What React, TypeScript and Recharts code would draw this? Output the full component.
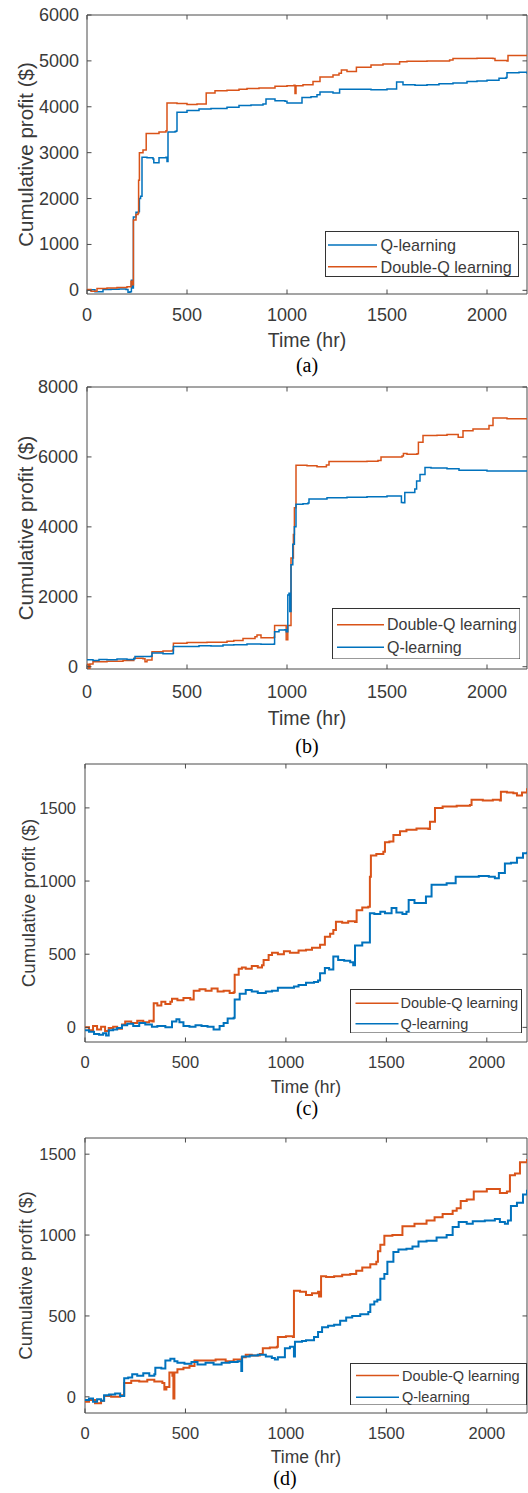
import { LineChart, Line, XAxis, YAxis, ReferenceArea, Legend } from 'recharts'

const BLUE = '#0072BD'
const ORANGE = '#D95319'
const INK = '#3a3a3a'
const FRAME = '#4a4a4a'
const FONT = "'Liberation Sans', Arial, Helvetica, sans-serif"
const PAD = 10
const X_AXIS_H = 70

const timeTicks = [0, 500, 1000, 1500, 2000]

// (a)
const aQTime = [0, 40, 80, 120, 160, 195, 205, 215, 222, 226,
  232, 245, 258, 262, 268, 275, 300, 330, 334, 360,
  395, 400, 405, 440, 446, 450, 500, 560, 620, 700,
  760, 820, 880, 895, 940, 990, 1000, 1060, 1075, 1120,
  1150, 1165, 1230, 1263, 1350, 1420, 1500, 1545, 1548, 1580,
  1640, 1700, 1760, 1830, 1900, 1950, 2000, 2060, 2095, 2100,
  2160, 2200]
const aQProfit = [10, -30, 20, 25, 30, 20, -40, -30, 220, 50,
  1600, 1700, 1720, 2000, 2050, 2900, 2890, 2860, 2780, 2890,
  2900, 2810, 3450, 3460, 3470, 3880, 3920, 3950, 3960, 3990,
  4030, 4040, 4060, 4170, 4130, 4120, 4080, 4080, 4200, 4220,
  4260, 4320, 4300, 4380, 4380, 4370, 4390, 4390, 4540, 4480,
  4470, 4480, 4500, 4520, 4550, 4560, 4580, 4620, 4640, 4740,
  4750, 4720]
const aDQTime = [0, 20, 50, 100, 150, 200, 220, 228, 232, 245,
  255, 258, 262, 280, 292, 296, 330, 360, 395, 400,
  450, 500, 550, 592, 596, 640, 700, 760, 800, 860,
  940, 1000, 1035, 1040, 1045, 1080, 1130, 1165, 1230, 1260,
  1272, 1300, 1330, 1347, 1420, 1480, 1563, 1600, 1700, 1813,
  1830, 1950, 2030, 2040, 2100, 2105, 2200]
const aDQProfit = [20, -20, 40, 50, 60, 80, 200, 120, 1530, 1650,
  1680, 2400, 3000, 3060, 3060, 3420, 3420, 3450, 3480, 4080,
  4070, 4050, 4060, 4060, 4300, 4350, 4360, 4380, 4400, 4410,
  4450, 4460, 4470, 4290, 4460, 4480, 4550, 4650, 4690, 4730,
  4800, 4770, 4770, 4860, 4910, 4930, 4980, 4990, 5000, 5020,
  5050, 5060, 5050, 5010, 5000, 5120, 5110]

// (b)
const bQTime = [0, 30, 60, 100, 150, 200, 234, 240, 300, 320,
  325, 380, 428, 432, 500, 560, 620, 680, 734, 800,
  870, 935, 938, 960, 990, 996, 1004, 1010, 1014, 1020,
  1029, 1037, 1045, 1080, 1105, 1110, 1200, 1300, 1400, 1500,
  1570, 1572, 1580, 1589, 1639, 1648, 1665, 1690, 1720, 1800,
  1860, 1900, 2000, 2100, 2200]
const bQProfit = [200, 180, 210, 200, 220, 210, 230, 290, 290, 300,
  390, 370, 380, 580, 580, 600, 590, 620, 630, 650,
  640, 650, 1000, 1050, 1060, 1000, 2050, 2100, 1580, 2920,
  3500, 4000, 4650, 4660, 4680, 4800, 4830, 4850, 4860, 4880,
  4880, 4700, 4690, 4980, 5080, 5310, 5500, 5700, 5680, 5660,
  5620, 5620, 5600, 5600, 5600]
const bDQTime = [0, 8, 15, 30, 100, 180, 234, 280, 290, 300,
  325, 380, 428, 432, 500, 600, 700, 734, 780, 840,
  850, 870, 935, 938, 990, 996, 1004, 1020, 1032, 1037,
  1045, 1100, 1150, 1197, 1210, 1300, 1400, 1455, 1470, 1575,
  1582, 1600, 1650, 1657, 1680, 1750, 1800, 1850, 1856, 1880,
  1930, 2010, 2030, 2100, 2200]
const bDQProfit = [70, -40, 80, 140, 160, 180, 240, 230, 140, 190,
  430, 450, 480, 670, 690, 700, 730, 750, 810, 860,
  910, 830, 840, 1180, 1180, 770, 1180, 3110, 3780, 4550,
  5760, 5750, 5720, 5770, 5870, 5870, 5880, 5900, 6000, 6030,
  6100, 6080, 6090, 6420, 6610, 6620, 6640, 6640, 6560, 6750,
  6800, 6900, 7110, 7090, 7090]

// (c)
const cDQTime = [0, 20, 40, 60, 80, 100, 118, 140, 160, 184,
  200, 230, 260, 290, 320, 335, 342, 360, 380, 400,
  425, 433, 460, 490, 524, 541, 570, 600, 630, 660,
  690, 720, 740, 745, 765, 781, 800, 830, 860, 881,
  889, 914, 931, 960, 990, 1020, 1063, 1100, 1130, 1170,
  1194, 1220, 1236, 1249, 1280, 1310, 1344, 1352, 1380, 1410,
  1418, 1423, 1450, 1485, 1493, 1515, 1535, 1568, 1600, 1650,
  1709, 1717, 1742, 1780, 1850, 1916, 1924, 1980, 2030, 2065,
  2070, 2100, 2132, 2150, 2175, 2200]
const cDQProfit = [0, -20, 10, -15, 5, -25, -5, 5, -10, 20,
  40, 30, 45, 35, 45, 40, 165, 150, 175, 160,
  175, 195, 185, 200, 190, 250, 260, 250, 265, 245,
  250, 235, 240, 360, 400, 410, 400, 420, 410, 425,
  460, 495, 510, 500, 520, 510, 525, 530, 545, 565,
  620, 640, 665, 722, 715, 725, 720, 800, 820, 825,
  1030, 1175, 1185, 1200, 1265, 1270, 1315, 1340, 1350, 1360,
  1355, 1405, 1500, 1510, 1515, 1520, 1555, 1550, 1555, 1550,
  1610, 1605, 1600, 1585, 1605, 1635]
const cQTime = [0, 20, 45, 70, 90, 105, 118, 140, 160, 184,
  210, 240, 270, 300, 333, 360, 400, 433, 455, 470,
  490, 520, 550, 580, 610, 640, 670, 690, 710, 740,
  745, 770, 800, 830, 860, 900, 931, 960, 1000, 1040,
  1063, 1100, 1140, 1160, 1170, 1194, 1215, 1236, 1260, 1290,
  1320, 1335, 1344, 1380, 1410, 1418, 1440, 1470, 1493, 1526,
  1550, 1580, 1600, 1611, 1640, 1675, 1697, 1725, 1760, 1800,
  1845, 1900, 1960, 2010, 2040, 2060, 2090, 2120, 2150, 2180,
  2200]
const cQProfit = [-20, -30, -45, -50, -40, -55, -20, -15, -5, 15,
  25, 10, 30, 20, 5, 10, 0, 40, 55, 35,
  10, 5, 15, 10, 5, -15, 10, 30, 60, 65,
  190, 230, 255, 245, 235, 245, 250, 270, 270, 280,
  290, 305, 310, 320, 370, 405, 395, 485, 460, 455,
  445, 425, 560, 580, 580, 780, 775, 790, 780, 815,
  785, 775, 790, 870, 850, 850, 895, 975, 975, 985,
  1030, 1030, 1035, 1030, 1020, 1055, 1120, 1125, 1160, 1190,
  1200]

// (d)
const dDQTime = [0, 20, 50, 80, 95, 130, 175, 195, 230, 270,
  310, 345, 385, 395, 405, 420, 435, 440, 445, 460,
  490, 520, 545, 600, 650, 700, 740, 780, 800, 830,
  870, 885, 920, 955, 960, 1000, 1035, 1040, 1070, 1100,
  1130, 1160, 1165, 1175, 1200, 1240, 1280, 1320, 1350, 1380,
  1420, 1450, 1458, 1470, 1490, 1530, 1565, 1580, 1640, 1700,
  1740, 1780, 1830, 1850, 1870, 1900, 1935, 2000, 2050, 2065,
  2100, 2115, 2140, 2165, 2200]
const dDQProfit = [-30, -20, -40, -25, 5, 0, 10, 85, 100, 95,
  105, 95, 85, 45, 60, 150, 130, -10, 150, 170,
  180, 190, 225, 225, 230, 220, 230, 245, 260, 255,
  265, 300, 305, 310, 370, 375, 370, 655, 650, 630,
  640, 650, 620, 745, 740, 745, 755, 760, 780, 800,
  820, 835, 900, 940, 995, 1000, 1000, 1055, 1070, 1090,
  1110, 1130, 1150, 1165, 1210, 1220, 1270, 1285, 1285, 1260,
  1270, 1370, 1380, 1450, 1470]
const dQTime = [0, 20, 40, 60, 80, 95, 120, 150, 175, 195,
  215, 235, 260, 290, 320, 345, 350, 380, 400, 425,
  445, 460, 495, 530, 560, 600, 640, 680, 720, 760,
  778, 782, 820, 860, 900, 930, 945, 960, 995, 1020,
  1040, 1045, 1080, 1100, 1140, 1160, 1180, 1210, 1240, 1270,
  1300, 1330, 1370, 1410, 1420, 1440, 1455, 1470, 1490, 1505,
  1535, 1560, 1600, 1630, 1660, 1700, 1750, 1800, 1830, 1860,
  1900, 1930, 1990, 2040, 2065, 2090, 2105, 2120, 2150, 2180,
  2200]
const dQProfit = [-20, -10, -30, -15, -25, 10, 15, 20, 5, 115,
  120, 140, 130, 145, 130, 140, 180, 175, 225, 235,
  220, 210, 205, 215, 200, 210, 200, 210, 215, 220,
  160, 250, 255, 260, 250, 240, 230, 245, 300, 310,
  250, 340, 345, 350, 370, 400, 430, 440, 445, 470,
  490, 500, 510, 525, 570, 590, 600, 730, 760, 835,
  895, 910, 915, 930, 960, 965, 985, 1000, 1050, 1080,
  1070, 1085, 1090, 1100, 1080, 1070, 1090, 1180, 1200, 1250,
  1280]

const zip = (time: number[], profit: number[]) => time.map((t, i) => ({ time: t, profit: profit[i] }))

const Q_NAME = 'Q-learning'
const DQ_NAME = 'Double-Q learning'

type Series = { name: string; color: string; data: { time: number; profit: number }[] }
type LegendBox = { left: number; top: number; width: number; height: number; rowY: number[]; lineX1: number; lineX2: number; textX: number; font: number }
type Panel = {
  caption: string; captionX: number; captionY: number
  top: number; bottom: number; left: number; right: number
  xMax: number; yMin: number; yMax: number; yTicks: number[]
  tickFont: number; xTitleFont: number; yTitleFont: number
  yTitleX: number; tickDy: number; xTitleDy: number; yTickGap: number
  lineWidth: number; series: Series[]; legend: LegendBox
}

const panels: Panel[] = [
  {
    caption: '(a)', captionX: 307, captionY: 365,
    top: 15, bottom: 294, left: 87, right: 527,
    xMax: 2200, yMin: -80, yMax: 6000, yTicks: [0, 1000, 2000, 3000, 4000, 5000, 6000],
    tickFont: 18, xTitleFont: 19.5, yTitleFont: 20.5, yTitleX: 25, tickDy: 21, xTitleDy: 46, yTickGap: 8,
    lineWidth: 1.5,
    series: [
      { name: Q_NAME, color: BLUE, data: zip(aQTime, aQProfit) },
      { name: DQ_NAME, color: ORANGE, data: zip(aDQTime, aDQProfit) },
    ],
    legend: { left: 325, top: 231, width: 194, height: 46, rowY: [245, 266.7], lineX1: 328, lineX2: 377, textX: 380.5, font: 16.2 },
  },
  {
    caption: '(b)', captionX: 307, captionY: 746,
    top: 387, bottom: 669, left: 87, right: 527,
    xMax: 2200, yMin: -65, yMax: 8000, yTicks: [0, 2000, 4000, 6000, 8000],
    tickFont: 18, xTitleFont: 19.5, yTitleFont: 20.5, yTitleX: 25, tickDy: 22.5, xTitleDy: 49, yTickGap: 9,
    lineWidth: 1.5,
    series: [
      { name: DQ_NAME, color: ORANGE, data: zip(bDQTime, bDQProfit) },
      { name: Q_NAME, color: BLUE, data: zip(bQTime, bQProfit) },
    ],
    legend: { left: 331.5, top: 607.5, width: 188.5, height: 51.5, rowY: [624.3, 646.7], lineX1: 336.5, lineX2: 383.5, textX: 386.5, font: 16 },
  },
  {
    caption: '(c)', captionX: 307, captionY: 1108,
    top: 764, bottom: 1042, left: 85, right: 527,
    xMax: 2200, yMin: -100, yMax: 1800, yTicks: [0, 500, 1000, 1500],
    tickFont: 16.5, xTitleFont: 17.5, yTitleFont: 18.7, yTitleX: 28, tickDy: 20, xTitleDy: 45, yTickGap: 9,
    lineWidth: 2,
    series: [
      { name: DQ_NAME, color: ORANGE, data: zip(cDQTime, cDQProfit) },
      { name: Q_NAME, color: BLUE, data: zip(cQTime, cQProfit) },
    ],
    legend: { left: 349.5, top: 988.5, width: 172, height: 44.5, rowY: [1002.7, 1023.3], lineX1: 355, lineX2: 398, textX: 400, font: 14.5 },
  },
  {
    caption: '(d)', captionX: 285, captionY: 1478,
    top: 1138, bottom: 1413, left: 85, right: 527,
    xMax: 2200, yMin: -100, yMax: 1600, yTicks: [0, 500, 1000, 1500],
    tickFont: 16.5, xTitleFont: 17.5, yTitleFont: 18.7, yTitleX: 25, tickDy: 19.5, xTitleDy: 43.5, yTickGap: 9,
    lineWidth: 2,
    series: [
      { name: DQ_NAME, color: ORANGE, data: zip(dDQTime, dDQProfit) },
      { name: Q_NAME, color: BLUE, data: zip(dQTime, dQProfit) },
    ],
    legend: { left: 350, top: 1362.5, width: 177, height: 42.5, rowY: [1375, 1396.7], lineX1: 356, lineX2: 399, textX: 402, font: 14.5 },
  },
]

function ProfitPanel({ p }: { p: Panel }) {
  const plotH = p.bottom - p.top
  const height = PAD + plotH + X_AXIS_H
  const offsetTop = p.top - PAD
  const plotBottom = PAD + plotH
  const lg = p.legend

  const xTick = (props: any) => {
    const { x, payload } = props
    return (
      <g>
        <line x1={x} x2={x} y1={plotBottom} y2={plotBottom - 4.5} stroke={FRAME} />
        <line x1={x} x2={x} y1={PAD} y2={PAD + 4.5} stroke={FRAME} />
        <text x={x} y={plotBottom + p.tickDy} textAnchor="middle" dominantBaseline="central"
          fontSize={p.tickFont} fontFamily={FONT} fill={INK}>{payload.value}</text>
      </g>
    )
  }

  const yTick = (props: any) => {
    const { y, payload } = props
    return (
      <g>
        <line x1={p.left} x2={p.left + 4.5} y1={y} y2={y} stroke={FRAME} />
        <line x1={p.right - 4.5} x2={p.right} y1={y} y2={y} stroke={FRAME} />
        <text x={p.left - p.yTickGap} y={y} textAnchor="end" dominantBaseline="central"
          fontSize={p.tickFont} fontFamily={FONT} fill={INK}>{payload.value}</text>
      </g>
    )
  }

  const XTitle = () => (
    <text x={(p.left + p.right) / 2} y={plotBottom + p.xTitleDy} textAnchor="middle" dominantBaseline="central"
      fontSize={p.xTitleFont} fontFamily={FONT} fill={INK}>Time (hr)</text>
  )

  const YTitle = () => {
    const cy = PAD + plotH / 2
    return (
      <text x={p.yTitleX} y={cy} transform={`rotate(-90 ${p.yTitleX} ${cy})`} textAnchor="middle"
        dominantBaseline="central" fontSize={p.yTitleFont} fontFamily={FONT} fill={INK}>Cumulative profit ($)</text>
    )
  }

  const legendContent = () => (
    <svg width={lg.width} height={lg.height} style={{ display: 'block' }}>
      <rect x={0.5} y={0.5} width={lg.width - 1} height={lg.height - 1} fill="#fff" stroke="#333" />
      {p.series.map((s, i) => (
        <g key={s.name}>
          <line x1={lg.lineX1 - lg.left} x2={lg.lineX2 - lg.left} y1={lg.rowY[i] - lg.top} y2={lg.rowY[i] - lg.top}
            stroke={s.color} strokeWidth={1.5} />
          <text x={lg.textX - lg.left} y={lg.rowY[i] - lg.top} dominantBaseline="central" fontSize={lg.font}
            fontFamily={FONT} fill={INK}>{s.name}</text>
        </g>
      ))}
    </svg>
  )

  return (
    <div style={{ position: 'absolute', left: 0, top: offsetTop, width: 528, height }}>
      <LineChart width={528} height={height} margin={{ top: PAD, right: 528 - p.right, left: 0, bottom: 0 }}>
        <XAxis dataKey="time" type="number" domain={[0, p.xMax]} ticks={timeTicks} allowDataOverflow
          height={X_AXIS_H} axisLine={false} tickLine={false} tick={xTick} label={<XTitle />} />
        <YAxis type="number" domain={[p.yMin, p.yMax]} ticks={p.yTicks} allowDataOverflow width={p.left}
          axisLine={false} tickLine={false} tick={yTick} label={<YTitle />} />
        {p.series.map((s) => (
          <Line key={s.name} data={s.data} dataKey="profit" name={s.name} type="stepAfter" stroke={s.color}
            strokeWidth={p.lineWidth} dot={false} activeDot={false} isAnimationActive={false} />
        ))}
        <ReferenceArea x1={0} x2={p.xMax} y1={p.yMin} y2={p.yMax} fill="none" stroke={FRAME} strokeWidth={1} />
        <Legend layout="vertical" align="center" verticalAlign="middle" content={legendContent}
          wrapperStyle={{ left: lg.left, top: lg.top - offsetTop, width: lg.width, height: lg.height }} />
      </LineChart>
    </div>
  )
}

export default function App() {
  return (
    <div style={{ position: 'absolute', left: 0, top: 0, width: 528, height: 1493, background: '#fff' }}>
      {panels.map((p) => (
        <div key={p.caption}>
          <ProfitPanel p={p} />
          <div style={{
            position: 'absolute', left: p.captionX - 30, width: 60, top: p.captionY - 12, height: 24,
            lineHeight: '24px', textAlign: 'center', fontFamily: "'Liberation Serif', 'Times New Roman', serif",
            fontSize: 20, color: '#000',
          }}>{p.caption}</div>
        </div>
      ))}
    </div>
  )
}
